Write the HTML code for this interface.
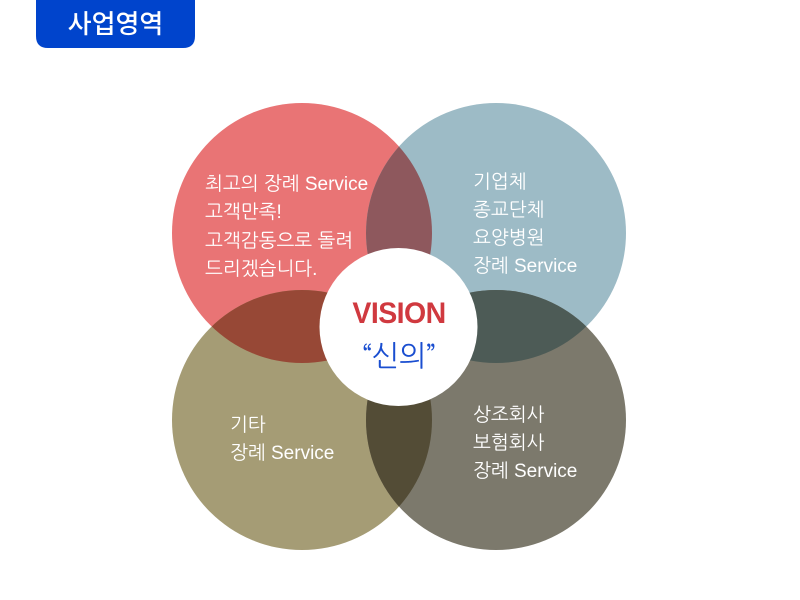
<!DOCTYPE html>
<html><head><meta charset="utf-8">
<style>
html,body{margin:0;padding:0;background:#fff;width:800px;height:600px;overflow:hidden;}
.t{font-family:"Liberation Sans","NanumGothic","Noto Sans CJK KR",sans-serif;}
.k{font-family:"NanumGothic","Noto Sans CJK KR",sans-serif;}
.n{font-family:"Noto Sans CJK KR","NanumGothic",sans-serif;}
</style></head>
<body>
<svg width="800" height="600" viewBox="0 0 800 600" xmlns="http://www.w3.org/2000/svg">
<defs>
<clipPath id="cR"><circle cx="302" cy="233" r="130"/></clipPath>
<clipPath id="cT"><circle cx="496" cy="233" r="130"/></clipPath>
<clipPath id="cO"><circle cx="302" cy="420" r="130"/></clipPath>
<clipPath id="cG"><circle cx="496" cy="420" r="130"/></clipPath>
</defs>
<path d="M36 0 H195 V36 Q195 48 183 48 H48 Q36 48 36 36 Z" fill="#0044cc"/>
<text class="n" x="115.5" y="33" text-anchor="middle" font-size="26" font-weight="500" fill="#fff">사업영역</text>

<circle cx="302" cy="233" r="130" fill="#e97475"/>
<circle cx="496" cy="233" r="130" fill="#9dbbc6"/>
<circle cx="302" cy="420" r="130" fill="#a59c75"/>
<circle cx="496" cy="420" r="130" fill="#7c796c"/>
<circle cx="496" cy="233" r="130" fill="#8e585d" clip-path="url(#cR)"/>
<circle cx="302" cy="420" r="130" fill="#974836" clip-path="url(#cR)"/>
<circle cx="496" cy="420" r="130" fill="#4d5b56" clip-path="url(#cT)"/>
<circle cx="496" cy="420" r="130" fill="#534c36" clip-path="url(#cO)"/>

<circle cx="398.5" cy="327" r="79" fill="#fff"/>
<text class="t" x="399" y="323" text-anchor="middle" font-size="30" font-weight="bold" fill="#d0393f" transform="translate(399 0) scale(0.95 1) translate(-399 0)" letter-spacing="-0.6">VISION</text>
<text class="k" x="399" y="366" text-anchor="middle" font-size="29" fill="#1a4ed0">“신의”</text>

<g class="t" font-size="19" fill="#fff">
<text x="205" y="190">최고의 장례 Service</text>
<text x="205" y="218">고객만족!</text>
<text x="205" y="247">고객감동으로 돌려</text>
<text x="205" y="275">드리겠습니다.</text>

<text x="473" y="188">기업체</text>
<text x="473" y="216">종교단체</text>
<text x="473" y="244">요양병원</text>
<text x="473" y="272">장례 Service</text>

<text x="230" y="431">기타</text>
<text x="230" y="459">장례 Service</text>

<text x="473" y="421">상조회사</text>
<text x="473" y="449">보험회사</text>
<text x="473" y="477">장례 Service</text>
</g>
</svg>
</body></html>
